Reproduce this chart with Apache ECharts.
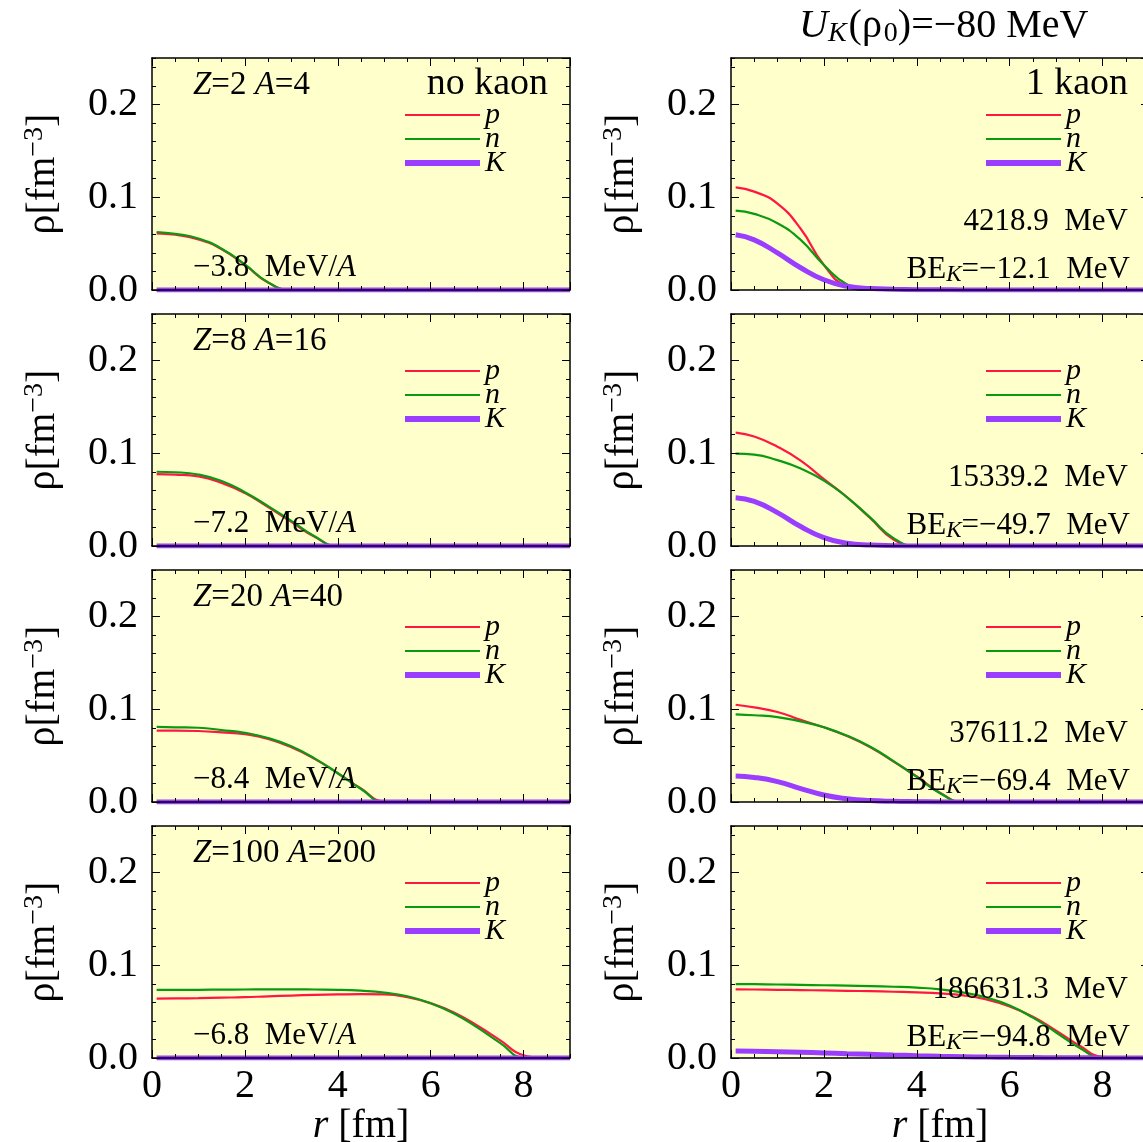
<!DOCTYPE html>
<html><head><meta charset="utf-8">
<script src="https://cdn.jsdelivr.net/npm/echarts@6/dist/echarts.min.js"></script>
<style>html,body{margin:0;padding:0;background:#fff}#c{width:1143px;height:1142px}</style>
</head><body><div id="c"></div>
<script>
// radial grid r [fm]
const R = [0.1,0.5,1,1.5,2,2.5,3,3.5,4,4.5,5,5.5,6,6.5,7,7.5,8,8.5,9];
// x tick labels / y tick labels
const X_TICKS = [0,2,4,6,8];
const Y_TICKS = [0.0,0.1,0.2];

// ---- no kaon (left column) ----
const he_p  = [0.061,0.0595,0.0545,0.044,0.027,0.008,0,0,0,0,0,0,0,0,0,0,0,0,0];
const he_n  = [0.0625,0.0605,0.0555,0.0445,0.0275,0.0082,0,0,0,0,0,0,0,0,0,0,0,0,0];
const o_p   = [0.0775,0.077,0.075,0.068,0.057,0.042,0.026,0.010,0,0,0,0,0,0,0,0,0,0,0];
const o_n   = [0.080,0.0795,0.077,0.070,0.058,0.043,0.027,0.0105,0,0,0,0,0,0,0,0,0,0,0];
const ca_p  = [0.077,0.077,0.0765,0.075,0.073,0.068,0.059,0.0465,0.031,0.0145,0.0005,0,0,0,0,0,0,0,0];
const ca_n  = [0.081,0.0805,0.080,0.0775,0.0745,0.069,0.060,0.047,0.031,0.014,0,0,0,0,0,0,0,0,0];
const fm_p  = [0.064,0.0642,0.0645,0.065,0.0655,0.0665,0.0673,0.068,0.0685,0.0688,0.0685,0.0655,0.059,0.049,0.035,0.019,0.003,0,0];
const fm_n  = [0.0735,0.0735,0.0735,0.0737,0.0738,0.074,0.074,0.0738,0.0735,0.0725,0.0705,0.0665,0.059,0.048,0.033,0.016,0.0005,0,0];
const k_none = [0,0,0,0,0,0,0,0,0,0,0,0,0,0,0,0,0,0,0];

// ---- 1 kaon (right column) ----
const he1_p = [0.1105,0.106,0.093,0.066,0.027,0.004,0,0,0,0,0,0,0,0,0,0,0,0,0];
const he1_n = [0.0855,0.082,0.072,0.054,0.027,0.006,0,0,0,0,0,0,0,0,0,0,0,0,0];
const he1_k = [0.0595,0.054,0.040,0.024,0.011,0.004,0.0015,0.0008,0.0004,0.0002,0.0001,0,0,0,0,0,0,0,0];
const o1_p  = [0.1222,0.118,0.107,0.092,0.072,0.0525,0.030,0.007,0,0,0,0,0,0,0,0,0,0,0];
const o1_n  = [0.0995,0.0985,0.0925,0.0835,0.0705,0.0525,0.0305,0.0085,0,0,0,0,0,0,0,0,0,0,0];
const o1_k  = [0.052,0.048,0.036,0.021,0.009,0.003,0.001,0.0003,0,0,0,0,0,0,0,0,0,0,0];
const ca1_p = [0.1048,0.102,0.097,0.0885,0.0805,0.071,0.059,0.0435,0.0275,0.010,0,0,0,0,0,0,0,0,0];
const ca1_n = [0.0945,0.0935,0.0915,0.0868,0.0805,0.0715,0.0595,0.044,0.027,0.0095,0,0,0,0,0,0,0,0,0];
const ca1_k = [0.028,0.0265,0.022,0.0145,0.0075,0.0035,0.0015,0.0007,0.0003,0,0,0,0,0,0,0,0,0,0];
const fm1_p = [0.074,0.0738,0.0735,0.0732,0.0728,0.0724,0.072,0.0714,0.0707,0.0696,0.0675,0.063,0.0555,0.0445,0.0295,0.0135,0.0012,0,0];
const fm1_n = [0.0797,0.0795,0.0792,0.0788,0.0784,0.078,0.0775,0.0768,0.0758,0.074,0.0705,0.065,0.0565,0.0435,0.0275,0.011,0,0,0];
const fm1_k = [0.0075,0.0073,0.0068,0.0062,0.0055,0.0047,0.004,0.0032,0.0025,0.0019,0.0014,0.001,0.0007,0.0005,0.0003,0.0002,0.0001,0,0];

// ---- annotation texts ----
const ZA = ['{i|Z}{n|=2 }{i|A}{n|=4}','{i|Z}{n|=8 }{i|A}{n|=16}','{i|Z}{n|=20 }{i|A}{n|=40}','{i|Z}{n|=100 }{i|A}{n|=200}'];
const E_PER_A = ['−3.8','−7.2','−8.4','−6.8'];
const E_TOT = ['4218.9','15339.2','37611.2','186631.3'];
const BE_K = ['−12.1','−49.7','−69.4','−94.8'];

const PANELS = [
  [he_p,he_n,k_none],[he1_p,he1_n,he1_k],
  [o_p,o_n,k_none],[o1_p,o1_n,o1_k],
  [ca_p,ca_n,k_none],[ca1_p,ca1_n,ca1_k],
  [fm_p,fm_n,k_none],[fm1_p,fm1_n,fm1_k]
];

const F = '"Liberation Serif","Times New Roman",serif';
const COLORS = ['#ff1744','#0a9a10','#9b3dff'];
const WIDTHS = [2.2,2.2,5];
const NAMES = ['p','n','K'];
const LEFT = [152,731], TOP0 = 58, STEP = 256, W = 418, H = 232;

function ts(size, extra){
  return Object.assign({fontFamily:F,fontSize:size,fontWeight:'normal',color:'#000',lineHeight:size+4}, extra||{});
}
function rich(size){
  return { n:ts(size), i:ts(size,{fontStyle:'italic'}) };
}

const grid=[],xAxis=[],yAxis=[],series=[],legend=[],title=[];
for(let g=0; g<8; g++){
  const row=Math.floor(g/2), col=g%2;
  const top = TOP0+row*STEP, left = LEFT[col];
  grid.push({left, top, width:W, height:H, show:true, backgroundColor:'#ffffcc', borderWidth:0, containLabel:false, outerBoundsMode:'none'});
  const bottomRow = row===3;
  const xBase = {gridIndex:g, type:'value', min:0, max:9, splitLine:{show:false}, z:5};
  xAxis.push(Object.assign({}, xBase, {position:'bottom', interval:2,
    axisLine:{show:true, onZero:false, lineStyle:{color:'#000', width:1.5}},
    axisTick:{show:true, inside:true, length:8, lineStyle:{color:'#000', width:1}},
    axisLabel:{show:bottomRow, margin:8, fontFamily:F, fontSize:40, color:'#000', showMaxLabel:false,
      formatter:v=> X_TICKS.indexOf(v)>=0 ? String(v) : ''},
    name: bottomRow ? '{i|r}{n| [fm]}' : '', nameLocation:'middle', nameGap:44,
    nameTextStyle:{rich:rich(40)}}));
  xAxis.push(Object.assign({}, xBase, {position:'top', interval:2,
    axisLine:{show:true, onZero:false, lineStyle:{color:'#000', width:1.5}},
    axisTick:{show:true, inside:true, length:8, lineStyle:{color:'#000', width:1}},
    axisLabel:{show:false}}));
  xAxis.push(Object.assign({}, xBase, {position:'bottom', interval:0.5,
    axisLine:{show:false, onZero:false}, axisTick:{show:true, inside:true, length:4, lineStyle:{color:'#000', width:1}},
    axisLabel:{show:false}}));
  xAxis.push(Object.assign({}, xBase, {position:'top', interval:0.5,
    axisLine:{show:false, onZero:false}, axisTick:{show:true, inside:true, length:4, lineStyle:{color:'#000', width:1}},
    axisLabel:{show:false}}));

  const yBase = {gridIndex:g, type:'value', min:0, max:0.25, splitLine:{show:false}, z:5};
  yAxis.push(Object.assign({}, yBase, {position:'left', interval:0.1,
    axisLine:{show:true, onZero:false, lineStyle:{color:'#000', width:1.5}},
    axisTick:{show:true, inside:true, length:8, lineStyle:{color:'#000', width:1}},
    axisLabel:{show:true, margin:14, fontFamily:F, fontSize:40, color:'#000', showMaxLabel:false,
      formatter:v=> Y_TICKS.some(t=>Math.abs(t-v)<1e-9) ? v.toFixed(1) : ''},
    name:'{a|ρ[fm}{s|−3}{a|]}', nameLocation:'middle', nameGap:89,
    nameTextStyle:{rich:{
      a:ts(40,{lineHeight:42,verticalAlign:'bottom'}),
      s:ts(28,{lineHeight:22,padding:[0,0,24,0],verticalAlign:'top'})
    }}}));
  yAxis.push(Object.assign({}, yBase, {position:'right', interval:0.1,
    axisLine:{show:true, onZero:false, lineStyle:{color:'#000', width:1.5}},
    axisTick:{show:true, inside:true, length:8, lineStyle:{color:'#000', width:1}},
    axisLabel:{show:false}}));
  yAxis.push(Object.assign({}, yBase, {position:'left', interval:0.02,
    axisLine:{show:false, onZero:false}, axisTick:{show:true, inside:true, length:4, lineStyle:{color:'#000', width:1}},
    axisLabel:{show:false}}));
  yAxis.push(Object.assign({}, yBase, {position:'right', interval:0.02,
    axisLine:{show:false, onZero:false}, axisTick:{show:true, inside:true, length:4, lineStyle:{color:'#000', width:1}},
    axisLabel:{show:false}}));

  PANELS[g].forEach((vals,si)=>{
    series.push({type:'line', name:NAMES[si], xAxisIndex:g*4, yAxisIndex:g*4,
      data:R.map((r,k)=>[r, vals[k]]), symbol:'none', showSymbol:false, smooth:true,
      lineStyle:{color:COLORS[si], width:WIDTHS[si]}, itemStyle:{color:COLORS[si]},
      clip:true, silent:true, z:2});
  });

  legend.push({orient:'vertical', left: col ? 983 : 402, top: top+42, padding:0,
    itemWidth:75, itemHeight:14, itemGap:-6, selectedMode:false,
    itemStyle:{opacity:0},
    textStyle:{fontFamily:F, fontStyle:'italic', fontSize:30, color:'#000'},
    data:NAMES.map((nm,si)=>({name:nm, itemStyle:{opacity:0}, lineStyle:{color:COLORS[si], width: si===2 ? 6 : 2.2}}))});

  if(col===0){
    title.push({text:ZA[row], left:193, top:top+25-16, padding:0, textStyle:{rich:rich(33)}});
    title.push({text:'{n|'+E_PER_A[row]+'  MeV/}{i|A}', left:193, top:top+210-17.5, padding:0, textStyle:{rich:rich(31)}});
    if(row===0) title.push({text:'{n|no kaon}', right:1143-548, top:top+26-21, padding:0, textStyle:{rich:rich(38)}});
  } else {
    title.push({text:'{n|'+E_TOT[row]+'  MeV}', right:15, top:top+164-17.5, padding:0, textStyle:{rich:rich(31)}});
    title.push({text:'{m|BE}{s|K}{m|='+BE_K[row]+'  MeV}', right:13, top:top+212-16, padding:0, textStyle:{rich:{
      m:ts(31,{lineHeight:32,verticalAlign:'top'}),
      s:ts(23,{fontStyle:'italic',lineHeight:22,padding:[16,0,0,0],verticalAlign:'bottom'})
    }}});
    if(row===0) title.push({text:'{n|1 kaon}', right:15, top:top+26-21, padding:0, textStyle:{rich:rich(38)}});
  }
}
title.push({text:'{u|U}{k|K}{m|(ρ}{z|0}{m|)=−80 MeV}', left:799, top:6, padding:0, textStyle:{rich:{
  u:ts(40,{fontStyle:'italic',lineHeight:42,verticalAlign:'top'}),
  m:ts(40,{lineHeight:42,verticalAlign:'top'}),
  k:ts(28,{fontStyle:'italic',lineHeight:28,padding:[20,2,0,0],verticalAlign:'bottom'}),
  z:ts(28,{lineHeight:28,padding:[20,0,0,2],verticalAlign:'bottom'})
}}});

const chart = echarts.init(document.getElementById('c'), null, {renderer:'canvas'});
chart.setOption({animation:false, backgroundColor:'#fff', grid, xAxis, yAxis, series, legend, title});
</script></body></html>
